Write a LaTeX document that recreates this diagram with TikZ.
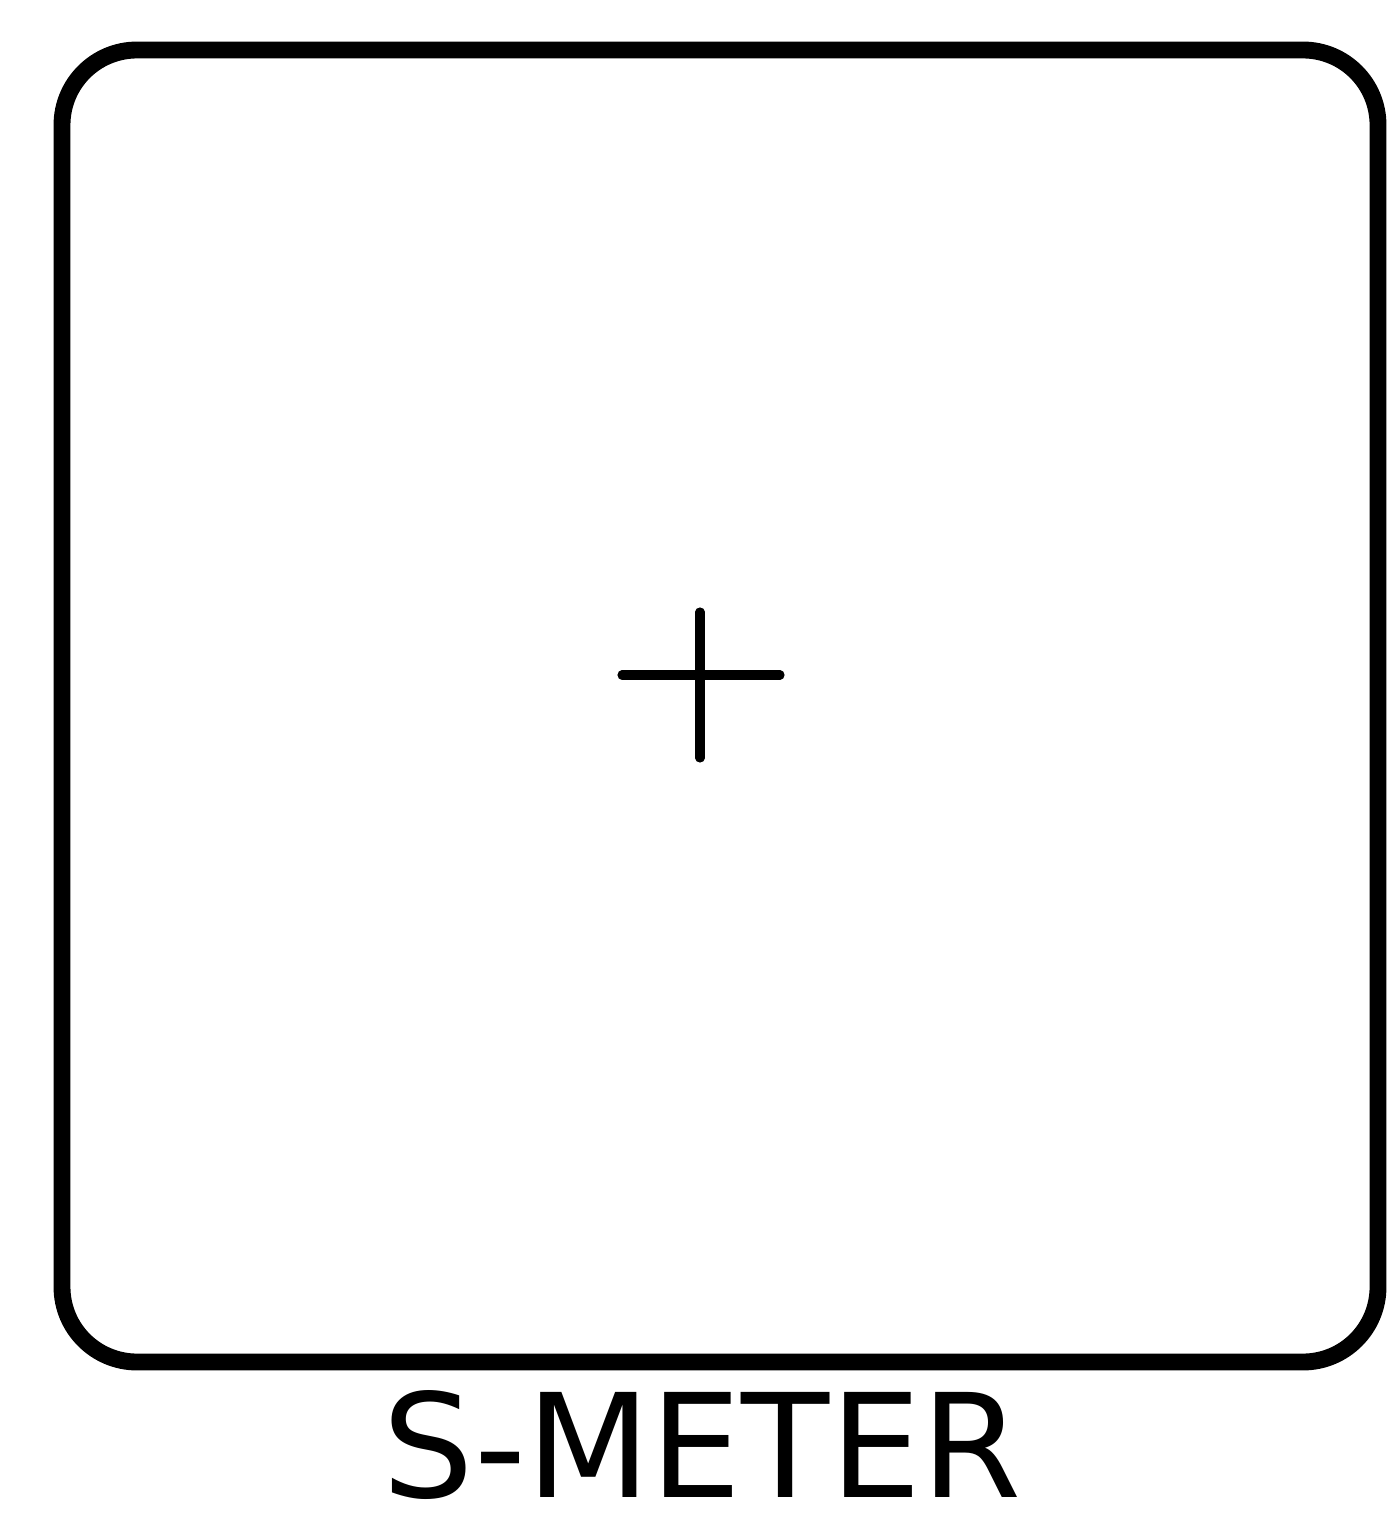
\documentclass[tikz,border=0pt]{standalone}
\usepackage{fontspec}
\setmainfont{DejaVu Sans}
\begin{document}
\begin{tikzpicture}[x=0.01cm,y=-0.01cm,
  frame/.style={line width=4.8pt, rounded corners=0.75cm},
  crossline/.style={line width=2.6pt, line cap=round},
  caption/.style={font=\fontsize{41}{45}\selectfont, inner sep=0pt}]
\useasboundingbox (0,0) rectangle (1394,1528);
\draw[frame] (62,50) rectangle (1378,1362);
\coordinate (hl) at (622,675);
\coordinate (hr) at (780,675);
\coordinate (vt) at (700,612);
\coordinate (vb) at (700,758);
\draw[crossline] (hl) -- (hr);
\draw[crossline] (vt) -- (vb);
\node[caption] (lbl) at (702,1445) {S-METER};
\end{tikzpicture}
\end{document}
